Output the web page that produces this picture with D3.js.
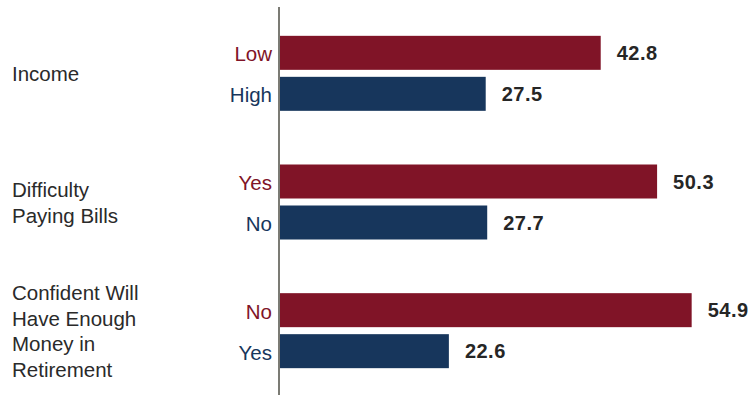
<!DOCTYPE html>
<html>
<head>
<meta charset="utf-8">
<script src="https://cdn.jsdelivr.net/npm/d3@7"></script>
<style>
  html, body { margin: 0; padding: 0; background: #fff; }
  svg { display: block; }
</style>
</head>
<body>
<svg id="chart" width="751" height="395"></svg>
<script>
// Group labels (line-broken), sub-category labels and values
const groups = [
  ["Income"],
  ["Difficulty", "Paying Bills"],
  ["Confident Will", "Have Enough", "Money in", "Retirement"]
];
const subLabels = [
  ["Low", "High"],
  ["Yes", "No"],
  ["No", "Yes"]
];
const values = [
  [42.8, 27.5],
  [50.3, 27.7],
  [54.9, 22.6]
];
const colors = ["#801427", "#17365c"];

const svg = d3.select("#chart");
const axisX = 279;

const x = d3.scaleLinear().domain([0, 60]).range([axisX, axisX + 451]);
const y = d3.scaleBand().domain(d3.range(groups.length)).range([9, 395]);
const inner = d3.scaleBand().domain([0, 1]).range([-37.5, 37.5]).paddingInner(7 / 41);

const rows = [];
values.forEach((pair, g) => pair.forEach((v, i) => rows.push({ g, i, v, label: subLabels[g][i] })));
const rowY = d => y(d.g) + y.bandwidth() / 2 + inner(d.i);

// bars
svg.append("g").selectAll("rect").data(rows).join("rect")
  .attr("x", x(0))
  .attr("y", rowY)
  .attr("width", d => x(d.v) - x(0))
  .attr("height", inner.bandwidth())
  .attr("fill", d => colors[d.i]);

// value labels
svg.append("g").selectAll("text").data(rows).join("text")
  .attr("x", d => x(d.v) + 16)
  .attr("y", d => rowY(d) + inner.bandwidth() / 2 + 7)
  .attr("font-family", "'Liberation Sans Narrow', 'Liberation Sans', Arial, sans-serif")
  .attr("font-weight", "bold")
  .attr("font-size", 20)
  .attr("letter-spacing", 0.5)
  .attr("fill", "#262626")
  .text(d => d.v.toFixed(1));

// sub-category labels
svg.append("g").selectAll("text").data(rows).join("text")
  .attr("x", axisX - 7)
  .attr("y", d => rowY(d) + inner.bandwidth() / 2 + 8.5)
  .attr("text-anchor", "end")
  .attr("font-family", "'Liberation Sans', Arial, sans-serif")
  .attr("font-size", 20.5)
  .attr("fill", d => colors[d.i])
  .text(d => d.label);

// group labels
const lineH = 25.5;
svg.append("g").selectAll("text").data(groups).join("text")
  .attr("x", 12)
  .attr("y", (d, g) => y(g) + y.bandwidth() / 2 + 8 - (d.length - 1) * lineH / 2)
  .attr("font-family", "'Liberation Sans', Arial, sans-serif")
  .attr("font-size", 20.5)
  .attr("fill", "#2a2a2a")
  .each(function (d) {
    d3.select(this).selectAll("tspan").data(d).join("tspan")
      .attr("x", 12)
      .attr("dy", (t, k) => k === 0 ? 0 : lineH)
      .text(t => t);
  });

// vertical axis line
svg.append("line")
  .attr("x1", axisX).attr("x2", axisX)
  .attr("y1", 7).attr("y2", 395)
  .attr("stroke", "#7b7b74")
  .attr("stroke-width", 2);
</script>
</body>
</html>
